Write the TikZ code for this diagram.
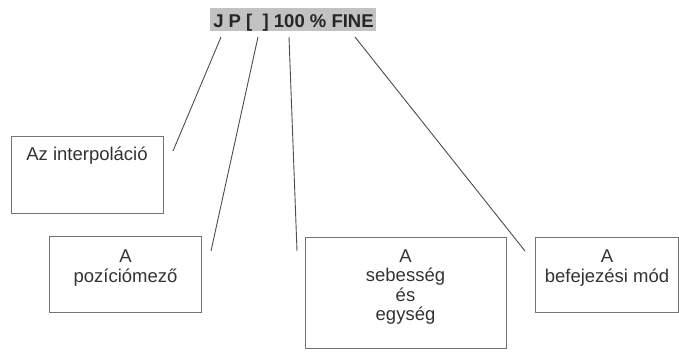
\documentclass[tikz,border=0pt]{standalone}
\usepackage{fontspec}
\setmainfont{Liberation Sans}
\begin{document}
\begin{tikzpicture}[x=1pt,y=-1pt,
  box/.style={draw=black!55, line width=0.9pt, inner sep=0pt, anchor=north west},
  txt/.style={text=black!80, font=\fontsize{18.5}{19.5}\selectfont, align=center, inner sep=0pt, anchor=base},
  conn/.style={draw=black!70, line width=0.9pt},
  titlebox/.style={fill=black!24, inner sep=0pt, anchor=north west}
]
\useasboundingbox (0,0) rectangle (679,351);
% title
\node[titlebox, minimum width=166pt, minimum height=23pt] (tb) at (210,8) {};
\node[text=black!85, font=\fontsize{18.5}{19}\selectfont\bfseries, inner sep=0pt, anchor=base] (title) at (293.5,27) {J P [\ \ ] 100 \% FINE};
% boxes
\node[box, minimum width=152pt, minimum height=77pt] (b1) at (11,136) {};
\node[box, minimum width=152pt, minimum height=76pt] (b2) at (49,236) {};
\node[box, minimum width=201pt, minimum height=111pt] (b3) at (305,237) {};
\node[box, minimum width=143pt, minimum height=75pt] (b4) at (535,237) {};
% texts (anchor = baseline of last line)
\node[txt] (t1) at (87,160) {Az interpoláció};
\node[txt] (t2) at (125.5,282) {A\\pozíciómező};
\node[txt] (t3) at (405.5,320.5) {A\\sebesség\\és\\egység};
\node[txt] (t4) at (607,282) {A\\befejezési mód};
% connector ends
\coordinate (s1) at (221,37);
\coordinate (s2) at (258,37);
\coordinate (s3) at (289,37);
\coordinate (s4) at (355,37);
\coordinate (e1) at (173,151);
\coordinate (e2) at (211,251);
\coordinate (e3) at (297,251);
\coordinate (e4) at (525,251);
\draw[conn] (s1) -- (e1);
\draw[conn] (s2) -- (e2);
\draw[conn] (s3) -- (e3);
\draw[conn] (s4) -- (e4);
\end{tikzpicture}
\end{document}
